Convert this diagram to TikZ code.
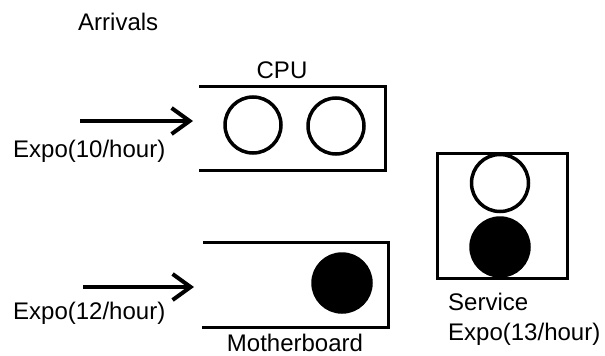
\documentclass[tikz,border=0pt]{standalone}
\usepackage{fontspec}
\setmainfont{Liberation Sans}
\usetikzlibrary{arrows.meta}

\begin{document}
\begin{tikzpicture}[x=1pt,y=-1pt,
  lbl/.style={font=\fontsize{24}{30}\selectfont,inner sep=0pt},
  tok/.style={circle,draw,line width=3.5pt,minimum size=56pt,inner sep=0pt},
  job/.style={tok,fill=black,minimum size=58pt},
  queue/.style={line width=3pt},
  arr/.style={-{Straight Barb[length=18pt,width=26pt]},line width=4pt}
]
\useasboundingbox (0,0) rectangle (605,356);

% labels
\node[lbl,anchor=base west] (arrivals) at (78,30) {Arrivals};
\node[lbl,anchor=base] (cpulbl) at (282,78) {CPU};
\node[lbl,anchor=base west] (rate1) at (13,157) {Expo(10/hour)};
\node[lbl,anchor=base west] (rate2) at (13,319) {Expo(12/hour)};
\node[lbl,anchor=base] (mblbl) at (295,351) {Motherboard};
\node[lbl,anchor=base west] (srvlbl) at (448,310) {Service};
\node[lbl,anchor=base west] (rate3) at (448,340) {Expo(13/hour)};

% queues, open on the left
\draw[queue] (199,86) -- (385,86) -- (385,170) -- (199,170);
\draw[queue] (203,242) -- (388,242) -- (388,327) -- (202,327);
\draw[queue] (437,153) rectangle (567,278);

% jobs waiting and in service
\node[tok] (cpu1) at (253,125) {};
\node[tok] (cpu2) at (336,126) {};
\node[job] (mb1) at (342,283) {};
\node[tok,minimum size=57pt] (srv1) at (500,183) {};
\node[job] (srv2) at (500,247) {};

% arrival streams
\coordinate (cpusrc) at (80,121);
\coordinate (cpuq) at (193,121);
\coordinate (mbsrc) at (83,287);
\coordinate (mbq) at (194,287);
\draw[arr] (cpusrc) -- (cpuq);
\draw[arr] (mbsrc) -- (mbq);
\end{tikzpicture}
\end{document}
